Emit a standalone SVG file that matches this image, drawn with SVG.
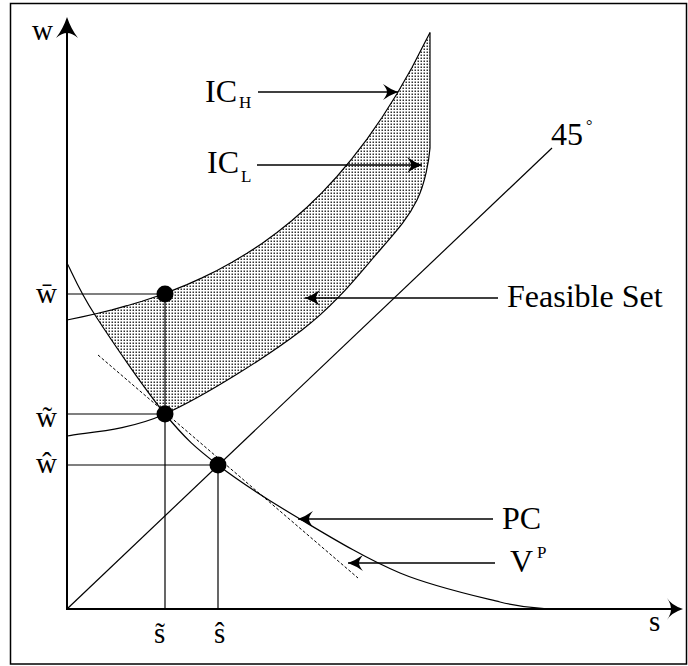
<svg xmlns="http://www.w3.org/2000/svg" width="688" height="666" viewBox="0 0 688 666">
<style>
.ln{fill:none;stroke:#000;stroke-width:1.2}
.ax{fill:none;stroke:#000;stroke-width:2}
.lbl{font-family:"Liberation Serif","Times New Roman",serif;fill:#000}
.big{font-size:32px}
.var{font-size:29px}
.con{fill:none;stroke:#000;stroke-width:1.3;marker-end:url(#ah)}
</style>
<defs>
<pattern id="dots" width="3" height="3" patternUnits="userSpaceOnUse">
<rect width="3" height="3" fill="#fff"/>
<rect x="0.5" y="0.5" width="1.5" height="1.5" fill="#333"/>
</pattern>
<marker id="ah" markerUnits="userSpaceOnUse" markerWidth="20" markerHeight="18" viewBox="-17 -9 19 18" refX="0" refY="0" orient="auto">
<path d="M0,0 Q-8,-3 -15,-8 Q-11,-3 -11,0 Q-11,3 -15,8 Q-8,3 0,0 Z" fill="#000"/>
</marker>
</defs>
<rect x="10.5" y="3.5" width="676" height="660.5" fill="#fff" stroke="#000" stroke-width="1.5"/>

<g id="feasible-set">
<path d="M97,313.5 L112,309.8 L127,305.7 L142,301.2 L157,296.2 L172,290.6 L187,284.6 L202,277.9 L217,270.5 L232,262.3 L247,253.3 L262,243.5 L277,232.5 L292,220.5 L307,207.2 L322,192.6 L337,176.5 L352,158.7 L367,139.1 L382,117.5 L397,93.7 L412,67.5 L430,32.5 L430,148 C429,160 425.3,183 417,200 C408.7,217 399.2,228.3 380,250 C360.8,271.7 337.8,302.7 302,330 C266.2,357.3 204.2,396.3 165,414 C144.5,389 111.3,340.2 95,315 Z" fill="url(#dots)" stroke="none"/>
<line x1="430" y1="32.5" x2="430" y2="148" class="ln"/>
</g>

<g id="axes">
<line x1="67" y1="30" x2="67" y2="610" class="ax"/>
<line x1="66" y1="609" x2="672" y2="609" class="ax"/>
<path d="M67,17 Q71,29 78,38 Q72,33 67,33 Q62,33 56,38 Q63,29 67,17 Z" fill="#000"/>
<path d="M683,609 Q671,605 667,598 Q671,604 671,609 Q671,614 667,620 Q671,613 683,609 Z" fill="#000"/>
</g>

<g id="IC_H-curve">
<path d="M67,320 L82,316.9 L97,313.5 L112,309.8 L127,305.7 L142,301.2 L157,296.2 L172,290.6 L187,284.6 L202,277.9 L217,270.5 L232,262.3 L247,253.3 L262,243.5 L277,232.5 L292,220.5 L307,207.2 L322,192.6 L337,176.5 L352,158.7 L367,139.1 L382,117.5 L397,93.7 L412,67.5 L430,32.5" class="ln"/>
</g>

<g id="IC_L-curve">
<path d="M67,436 C83.3,432.3 125.8,431.7 165,414 C204.2,396.3 266.2,357.3 302,330 C337.8,302.7 360.8,271.7 380,250 C399.2,228.3 408.7,217 417,200 C425.3,183 429,160 430,148" class="ln"/>
</g>

<g id="PC-curve">
<path d="M67,263 C71.7,271.7 78.7,289.8 95,315 C111.3,340.2 144.5,389 165,414 C185.5,439 195.5,447.5 218,465 C240.5,482.5 269.7,501 300,519 C330.3,537 366.7,559.2 400,573 C433.3,586.8 475.5,596 500,602 C524.5,608 539.2,607.8 547,609" class="ln"/>
</g>

<g id="VP-tangent">
<line x1="98" y1="355" x2="358" y2="578" fill="none" stroke="#000" stroke-width="1" stroke-dasharray="3,2"/>
</g>

<g id="line-45">
<line x1="67" y1="609" x2="552" y2="148" class="ln"/>
</g>

<g id="guides">
<line x1="67" y1="294" x2="165" y2="294" class="ln"/>
<line x1="67" y1="414" x2="165" y2="414" class="ln"/>
<line x1="67" y1="465" x2="218" y2="465" class="ln"/>
<line x1="165" y1="294" x2="165" y2="609" class="ln"/>
<line x1="218" y1="465" x2="218" y2="609" class="ln"/>
</g>

<g id="dot-wbar"><circle cx="165" cy="294" r="8.5" fill="#000"/></g>
<g id="dot-wtilde"><circle cx="165" cy="414" r="8.5" fill="#000"/></g>
<g id="dot-what"><circle cx="218" cy="465" r="8.5" fill="#000"/></g>

<g id="connectors">
<line x1="258" y1="92" x2="398" y2="92" class="con"/>
<line x1="257" y1="165" x2="422" y2="165" class="con"/>
<line x1="498" y1="298" x2="305" y2="298" class="con"/>
<line x1="493" y1="519" x2="298" y2="519" class="con"/>
<line x1="495" y1="563" x2="348" y2="563" class="con"/>
</g>

<g id="labels" class="lbl">
<text x="32" y="40" class="var">w</text>
<text x="205" y="102" class="big">IC<tspan font-size="17" dx="2" dy="6">H</tspan></text>
<text x="207" y="173" class="big">IC<tspan font-size="17" dx="2" dy="9">L</tspan></text>
<text x="551" y="145" class="big">45<tspan font-size="16" dx="3" dy="-14">°</tspan></text>
<text x="507" y="307" class="big">Feasible Set</text>
<text x="502" y="529" class="big">PC</text>
<text x="510" y="572" class="big">V<tspan font-size="17" dx="4" dy="-14">P</tspan></text>
<text x="36" y="303" class="var">w̄</text>
<text x="36" y="427" class="var">w̃</text>
<text x="36" y="473" class="var">ŵ</text>
<text x="154" y="643" class="var">s̃</text>
<text x="214" y="643" class="var">ŝ</text>
<text x="649" y="631" class="var">s</text>
</g>
</svg>
